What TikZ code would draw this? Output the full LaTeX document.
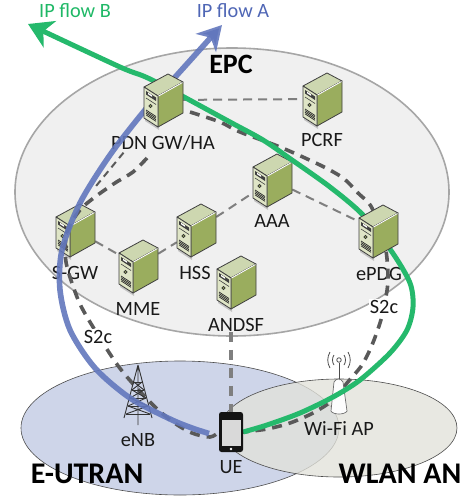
\documentclass[tikz,border=0pt]{standalone}
\usepackage{fontspec}
\setmainfont{Carlito}
\usetikzlibrary{arrows.meta,shapes.geometric}
\definecolor{flowblue}{HTML}{6277BD}
\definecolor{flowgreen}{HTML}{25B96C}
\definecolor{bluetxt}{HTML}{4F66B5}
\definecolor{greentxt}{HTML}{1FB866}
\definecolor{dashdark}{HTML}{595959}
\definecolor{dashmid}{HTML}{7F7F7F}
\definecolor{srvtop}{HTML}{CDD7B0}
\definecolor{srvfront}{HTML}{DFE5C6}
\definecolor{srvside}{HTML}{9AAD5E}
\definecolor{utranfill}{HTML}{CED5E9}
\definecolor{wlanfill}{HTML}{E2E2DA}
\tikzset{
  lbl/.style={font=\fontsize{20.3}{24}\selectfont,inner sep=0pt,text=black!90},
  big/.style={font=\fontsize{30}{35}\selectfont\bfseries,inner sep=0pt},
  area/.style={ellipse,inner sep=0pt},
  srvnode/.style={inner sep=0pt,minimum width=39pt,minimum height=53pt},
  thinlink/.style={draw=dashmid,line width=2pt,dash pattern=on 9pt off 6pt},
  thicklink/.style={draw=dashdark,line width=3.6pt,dash pattern=on 10pt off 7pt},
  flowa/.style={draw=flowblue,line width=5.6pt,draw opacity=.9,-{Stealth[length=24pt,width=27pt,inset=7pt]}},
  flowb/.style={draw=flowgreen,line width=5pt,-{Stealth[length=24pt,width=29pt,inset=7pt]}},
  radio/.style={draw=black!70,line width=.8pt},
}
\newcommand{\srvart}[2]{%
  \begin{scope}[shift={(#1,#2)}]
    \fill[black,opacity=.18] (1,2) -- (15,12) -- (15,43) -- (1,34) -- cycle;
    \filldraw[draw=black!75,line width=.8pt,fill=srvtop,line join=round] (0,0) -- (24,-13) -- (39,-5) -- (14,9) -- cycle;
    \filldraw[draw=black!75,line width=.8pt,fill=srvside,line join=round] (14,9) -- (39,-5) -- (39,26) -- (14,40) -- cycle;
    \filldraw[draw=black!75,line width=.8pt,fill=srvfront,line join=round] (0,0) -- (14,9) -- (14,40) -- (0,31) -- cycle;
    \draw[white,line width=.9pt] (14.5,9) -- (38.5,-4.5);
    \fill[black!75] (2,4) -- (12,10.5) -- (12,14) -- (2,7.5) -- cycle;
    \fill[white] (4,5.7) -- (8,8.3) -- (8,9.8) -- (4,7.2) -- cycle;
    \draw[black!75,line width=.6pt] (2,11) -- (12,17.5);
    \draw[black!80,line width=.6pt,fill=srvside] (6.5,19) circle (1.6);
    \foreach \d in {0,1.6,3.2,4.8} \draw[black!85,line width=.7pt] (2,23+\d) -- (12,29.5+\d);
  \end{scope}}
\begin{document}
\begin{tikzpicture}[x=1pt,y=-1pt]
\useasboundingbox (0,0) rectangle (469,496);
% regions
\node[area,draw=black!35,line width=1.6pt,fill=black!6,minimum width=434pt,minimum height=288pt] (epcarea) at (232,192) {};
\node[area,draw=black!70,line width=.6pt,fill=utranfill,minimum width=318pt,minimum height=134pt] (utran) at (180,428) {};
\node[area,draw=black!70,line width=.6pt,fill=wlanfill,fill opacity=.78,minimum width=236pt,minimum height=98pt] (wlanarea) at (339,428) {};
% server anchors
\node[srvnode] (pdn)   at (163.5,100) {};
\node[srvnode] (pcrf)  at (322.5,99)  {};
\node[srvnode] (aaa)   at (272.5,180) {};
\node[srvnode] (epdg)  at (378.5,231) {};
\node[srvnode] (sgw)   at (75.5,230)  {};
\node[srvnode] (hss)   at (196.5,230) {};
\node[srvnode] (mme)   at (138.5,266) {};
\node[srvnode] (andsf) at (236.5,282) {};
% labels of nodes used by links
\node[lbl] (andsfl) at (236,325) {ANDSF};
\node[inner sep=0pt,minimum width=24pt,minimum height=40pt] (ue) at (231,432) {};
\coordinate (heada) at (222,25);
\coordinate (headb) at (28,24);
\coordinate (taila) at (209,433.5);
% thin signalling links
\draw[thinlink] (pdn) -- (pcrf);
\draw[thinlink] (aaa) -- (epdg);
\draw[thinlink] (hss) -- (aaa);
\draw[thinlink] (sgw) -- (mme);
\draw[thinlink] (mme) -- (hss);
% servers below the flows
\srvart{56}{217}\srvart{119}{253}\srvart{177}{217}\srvart{217}{269}\srvart{253}{167}\srvart{303}{86}
% text under the flows
\node[lbl] (pdnl) at (163,143) {PDN GW/HA};
\node[lbl] (pcrfl) at (322,140) {PCRF};
\node[lbl] (aaal) at (272,221) {AAA};
\node[lbl] (epdgl) at (379,274) {ePDG};
\node[lbl] (sgwl) at (75,273) {S-GW};
\node[lbl] (mmel) at (138,309) {MME};
\node[lbl] (hssl) at (195,273) {HSS};
% dashed data links
\draw[thinlink,draw=dashdark,dash pattern=on 7pt off 5pt] (pdn.south) ++(-40,26) -- ++(-28,34);
\draw[thicklink] plot[smooth] coordinates {(147,158) (133,172) (115,183) (95,197) (80,210) (67,232) (66,262) (77,297) (87,317) (112,357) (127,377) (153,405) (173,422) (192,433) (210,437) (219,432)};
\draw[thicklink] plot[smooth] coordinates {(190,112) (220,122) (240,132) (280,147) (320,165) (343,178) (358,193) (372,208) (385,245) (388,280) (384,307) (380,323) (372,345) (362,365) (347,383) (333,400) (313,413) (290,423) (267,429) (243,432)};
\draw[draw=dashmid,line width=3.4pt,dash pattern=on 10pt off 8pt] (ue.north |- andsfl.south) -- (ue.north);
% eNB
\begin{scope}[black!80,line width=.9pt]
  \draw (138,365) -- (124,418) (138,365) -- (152,418) (138,365) -- (138,425);
  \draw (134,382) -- (142,382) (132,390) -- (144,390) (130,398) -- (146,398) (128,406) -- (148,406) (126,414) -- (150,414);
  \draw (134,382) -- (144,390) (142,382) -- (132,390) (132,390) -- (146,398) (144,390) -- (130,398) (130,398) -- (148,406) (146,398) -- (128,406) (128,406) -- (150,414) (148,406) -- (126,414);
\end{scope}
% Wi-Fi AP
\node[draw=black!70,line width=.8pt,circle,inner sep=0pt,minimum size=4.5pt] (aptop) at (339,360) {};
\draw[black!70,line width=.9pt] (aptop) -- (339,381);
\draw[radio] (334,355) .. controls (332,358) and (332,362) .. (334,365);
\draw[radio] (344,355) .. controls (346,358) and (346,362) .. (344,365);
\draw[radio] (330,352) .. controls (327,357) and (327,363) .. (330,368);
\draw[radio] (348,352) .. controls (351,357) and (351,363) .. (348,368);
\draw[black!60,line width=.7pt,fill=white,opacity=.95] (334,382) .. controls (336,378) and (341,378) .. (343,382) -- (347,411) .. controls (345,415) and (333,415) .. (331,411) -- cycle;
% flows
\draw[flowa] plot[smooth] coordinates {(taila) (192,428) (170,419) (130,398) (95,368) (70,330) (60,290) (62,250) (80,203) (110,155) (145,110) (168,85) (heada)};
\draw[flowb] plot[smooth] coordinates {(ue.east) (267,425) (300,413) (333,397) (360,380) (390,353) (407,330) (413,307) (410,283) (392,252) (363,215) (330,187) (292,160) (263,140) (230,122) (152,80) (120,67) (headb)};
% servers above the flows
\srvart{144}{87}\srvart{359}{218}
% UE phone
\fill[rounded corners=2.5pt,black!92] (219,412) rectangle (243,452);
\fill[black!15] (222,420) rectangle (240.5,446);
\fill[white] (231,449) circle (1.4);
% labels
\node[lbl,fill=white,inner sep=1pt] (s2cl) at (98,337) {S2c};
\node[lbl,fill=white,inner sep=1pt] (s2cr) at (384,307) {S2c};
\node[lbl] (enbl) at (138,440) {eNB};
\node[lbl] (uel) at (231,467) {UE};
\node[lbl] (wifil) at (339,429) {Wi-Fi AP};
\node[font=\fontsize{28}{32}\selectfont\bfseries,inner sep=0pt] (epcl) at (231,64) {EPC};
\node[big] (eutran) at (87,474) {E-UTRAN};
\node[big] (wlan) at (400,474) {WLAN AN};
\node[lbl,text=greentxt] (ipb) at (75,11) {IP flow B};
\node[lbl,text=bluetxt] (ipa) at (233,11) {IP flow A};
\end{tikzpicture}
\end{document}
